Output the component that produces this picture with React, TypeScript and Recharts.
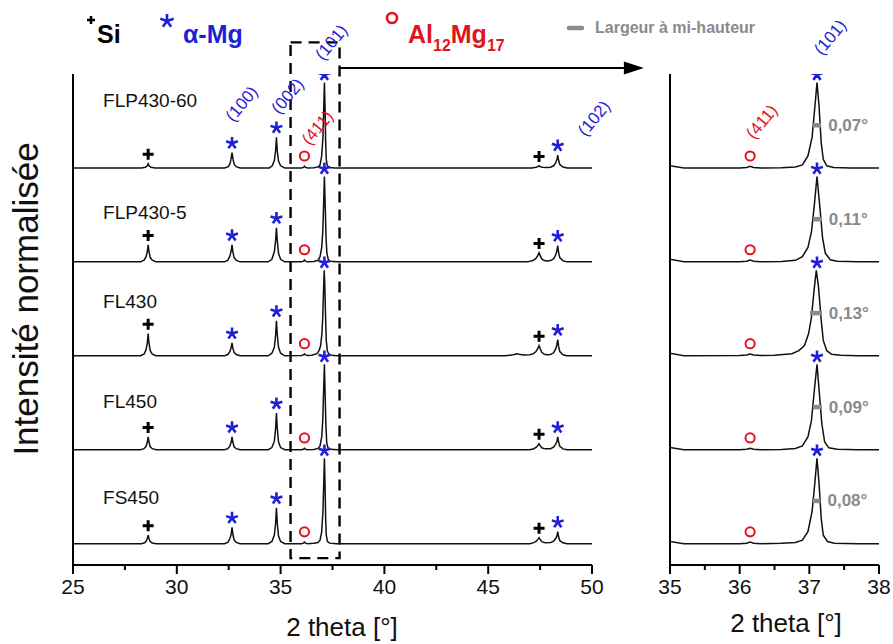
import React from "react";
import {
  ComposedChart,
  Line,
  Scatter,
  XAxis,
  YAxis,
  ReferenceArea,
  ReferenceLine,
  ReferenceDot,
} from "recharts";

const FONT = "'Liberation Sans', Arial, sans-serif";
const BLUE = "#1f1fd6";
const RED = "#e0141c";
const GRAY = "#8a8a8a";

type Pt = [number, number];

// samples, top to bottom
const samples = ["FLP430-60", "FLP430-5", "FL430", "FL450", "FS450"];
const offsets = [4.65, 3.55, 2.45, 1.35, 0.25];
const fwhmLabels = ["0,07°", "0,11°", "0,13°", "0,09°", "0,08°"];
const fwhmBars: Pt[] = [
  [37.05, 37.17],
  [37.05, 37.18],
  [37.01, 37.18],
  [37.05, 37.18],
  [37.05, 37.16],
];

// normalised intensity (above each pattern's own baseline)
const flp430_60: Pt[] = [
  [25, 0], [28.3, 0], [28.48, 0.008], [28.56, 0.02], [28.62, 0.05], [28.68, 0.02], [28.76, 0.008], [28.95, 0],
  [32.3, 0], [32.48, 0.015], [32.56, 0.05], [32.61, 0.1], [32.66, 0.18], [32.71, 0.1], [32.77, 0.04], [32.86, 0.015], [33.05, 0],
  [34.45, 0], [34.6, 0.025], [34.7, 0.09], [34.76, 0.2], [34.8, 0.36], [34.84, 0.2], [34.9, 0.08], [35.0, 0.025], [35.2, 0],
  [36.0, 0], [36.1, 0.006], [36.15, 0.02], [36.2, 0.006], [36.3, 0],
  [36.6, 0.003], [36.8, 0.012], [36.9, 0.035], [36.98, 0.14], [37.04, 0.36], [37.08, 0.72], [37.11, 1], [37.14, 0.72], [37.17, 0.3], [37.2, 0.1], [37.25, 0.025], [37.35, 0.006], [37.6, 0],
  [47.1, 0], [47.3, 0.008], [47.4, 0.015], [47.45, 0.025], [47.5, 0.015], [47.6, 0.008], [47.8, 0.004],
  [48.0, 0.008], [48.15, 0.025], [48.25, 0.06], [48.31, 0.1], [48.35, 0.15], [48.39, 0.09], [48.45, 0.04], [48.6, 0.01], [48.8, 0], [50, 0],
];
const flp430_5: Pt[] = [
  [25, 0], [28.25, 0], [28.42, 0.02], [28.52, 0.06], [28.58, 0.12], [28.62, 0.2], [28.66, 0.12], [28.72, 0.05], [28.82, 0.02], [29.0, 0],
  [32.3, 0], [32.46, 0.02], [32.56, 0.07], [32.62, 0.13], [32.66, 0.2], [32.7, 0.12], [32.76, 0.05], [32.86, 0.02], [33.05, 0],
  [34.4, 0], [34.58, 0.03], [34.7, 0.12], [34.76, 0.25], [34.8, 0.4], [34.84, 0.25], [34.9, 0.1], [35.0, 0.03], [35.2, 0],
  [36.0, 0], [36.1, 0.008], [36.15, 0.022], [36.2, 0.008], [36.3, 0],
  [36.6, 0.005], [36.8, 0.018], [36.9, 0.06], [36.98, 0.17], [37.03, 0.35], [37.07, 0.65], [37.11, 1], [37.15, 0.65], [37.19, 0.28], [37.23, 0.1], [37.3, 0.025], [37.4, 0.006], [37.7, 0],
  [46.9, 0], [47.15, 0.015], [47.3, 0.04], [47.38, 0.07], [47.45, 0.105], [47.51, 0.07], [47.58, 0.035], [47.7, 0.015], [47.85, 0.01],
  [48.0, 0.015], [48.15, 0.035], [48.25, 0.08], [48.31, 0.13], [48.35, 0.19], [48.39, 0.11], [48.45, 0.05], [48.6, 0.012], [48.8, 0], [50, 0],
];
const fl430: Pt[] = [
  [25, 0], [28.25, 0], [28.42, 0.02], [28.52, 0.07], [28.58, 0.15], [28.62, 0.26], [28.66, 0.15], [28.72, 0.06], [28.82, 0.02], [29.0, 0],
  [32.3, 0], [32.46, 0.015], [32.56, 0.05], [32.62, 0.1], [32.66, 0.15], [32.7, 0.09], [32.76, 0.04], [32.86, 0.015], [33.05, 0],
  [34.4, 0], [34.58, 0.03], [34.7, 0.1], [34.76, 0.24], [34.8, 0.41], [34.84, 0.25], [34.9, 0.1], [35.0, 0.03], [35.2, 0],
  [36.0, 0.003], [36.1, 0.01], [36.15, 0.022], [36.2, 0.01], [36.3, 0.004],
  [36.5, 0.006], [36.75, 0.025], [36.85, 0.06], [36.93, 0.12], [36.99, 0.26], [37.03, 0.45], [37.07, 0.78], [37.1, 1], [37.13, 0.82], [37.17, 0.42], [37.2, 0.18], [37.25, 0.06], [37.32, 0.018], [37.45, 0.006], [37.7, 0],
  [45.8, 0], [46.2, 0.012], [46.4, 0.025], [46.55, 0.014], [46.75, 0.01],
  [47.0, 0.012], [47.18, 0.025], [47.3, 0.05], [47.38, 0.08], [47.45, 0.12], [47.51, 0.08], [47.58, 0.04], [47.7, 0.018], [47.85, 0.012],
  [48.0, 0.016], [48.15, 0.035], [48.25, 0.08], [48.31, 0.13], [48.35, 0.19], [48.39, 0.11], [48.45, 0.05], [48.6, 0.012], [48.8, 0], [50, 0],
];
const fl450: Pt[] = [
  [25, 0], [28.25, 0], [28.42, 0.012], [28.52, 0.04], [28.58, 0.09], [28.62, 0.15], [28.66, 0.09], [28.72, 0.035], [28.82, 0.012], [29.0, 0],
  [32.3, 0], [32.46, 0.012], [32.56, 0.045], [32.62, 0.09], [32.66, 0.15], [32.7, 0.09], [32.76, 0.035], [32.86, 0.012], [33.05, 0],
  [34.4, 0], [34.58, 0.025], [34.7, 0.1], [34.76, 0.25], [34.8, 0.43], [34.84, 0.25], [34.9, 0.09], [35.0, 0.025], [35.2, 0],
  [36.0, 0], [36.1, 0.006], [36.15, 0.018], [36.2, 0.006], [36.3, 0],
  [36.6, 0.004], [36.8, 0.015], [36.9, 0.045], [36.98, 0.15], [37.03, 0.34], [37.07, 0.68], [37.11, 1], [37.14, 0.7], [37.18, 0.3], [37.22, 0.09], [37.28, 0.022], [37.4, 0.005], [37.7, 0],
  [47.0, 0], [47.2, 0.012], [47.32, 0.03], [47.39, 0.05], [47.45, 0.07], [47.51, 0.045], [47.6, 0.02], [47.75, 0.01],
  [48.0, 0.012], [48.15, 0.03], [48.25, 0.065], [48.31, 0.1], [48.35, 0.15], [48.39, 0.09], [48.45, 0.04], [48.6, 0.01], [48.8, 0], [50, 0],
];
const fs450: Pt[] = [
  [25, 0], [28.3, 0], [28.45, 0.01], [28.53, 0.03], [28.58, 0.06], [28.62, 0.1], [28.66, 0.06], [28.72, 0.025], [28.82, 0.008], [29.0, 0],
  [32.3, 0], [32.46, 0.015], [32.56, 0.06], [32.62, 0.11], [32.66, 0.19], [32.7, 0.11], [32.76, 0.045], [32.86, 0.015], [33.05, 0],
  [34.4, 0], [34.58, 0.025], [34.7, 0.1], [34.76, 0.24], [34.8, 0.42], [34.84, 0.24], [34.9, 0.09], [35.0, 0.025], [35.2, 0],
  [36.0, 0], [36.1, 0.006], [36.15, 0.018], [36.2, 0.006], [36.3, 0],
  [36.6, 0.004], [36.8, 0.014], [36.9, 0.04], [36.98, 0.14], [37.04, 0.38], [37.08, 0.72], [37.11, 1], [37.14, 0.7], [37.17, 0.3], [37.2, 0.1], [37.26, 0.025], [37.36, 0.006], [37.7, 0],
  [47.0, 0], [47.2, 0.012], [47.32, 0.03], [47.39, 0.05], [47.45, 0.07], [47.51, 0.045], [47.6, 0.02], [47.75, 0.01],
  [48.0, 0.012], [48.15, 0.03], [48.25, 0.06], [48.31, 0.09], [48.35, 0.14], [48.39, 0.08], [48.45, 0.035], [48.6, 0.01], [48.8, 0], [50, 0],
];
const patterns = [flp430_60, flp430_5, fl430, fl450, fs450];

// indexed peaks: phase + 2theta
const peaks = [
  { phase: "Si", x: 28.62 },
  { phase: "Mg", x: 32.66 },
  { phase: "Mg", x: 34.8 },
  { phase: "Al", x: 36.15 },
  { phase: "Mg", x: 37.11 },
  { phase: "Si", x: 47.45 },
  { phase: "Mg", x: 48.35 },
];

const leftMajor = [25, 30, 35, 40, 45, 50];
const leftTicks = [25, 27.5, 30, 32.5, 35, 37.5, 40, 42.5, 45, 47.5, 50];
const rightMajor = [35, 36, 37, 38];
const rightTicks = [35, 35.5, 36, 36.5, 37, 37.5, 38];
const yTicks = [
  0, 0.25, 0.5, 0.75, 1, 1.25, 1.5, 1.75, 2, 2.25, 2.5, 2.75, 3, 3.25, 3.5,
  3.75, 4, 4.25, 4.5, 4.75, 5, 5.25, 5.5, 5.75,
];

// annotation placement (data units)
const sampleLabelY = [5.44, 4.13, 3.08, 1.91, 0.785];
const millerLeft = [
  { text: "(100)", x: 33.13, y: 5.4, color: BLUE },
  { text: "(002)", x: 35.34, y: 5.49, color: BLUE },
  { text: "(101)", x: 37.45, y: 6.12, color: BLUE },
  { text: "(411)", x: 36.78, y: 5.12, color: RED },
  { text: "(102)", x: 50.1, y: 5.23, color: BLUE },
];
const millerRight = [
  { text: "(411)", x: 36.32, y: 5.19, color: RED },
  { text: "(101)", x: 37.3, y: 6.18, color: BLUE },
];

const series = patterns.map((p, i) =>
  p.map(([x, y]) => ({ x, y: y + offsets[i] }))
);

const marks = patterns.flatMap((p, i) =>
  peaks.map((pk) => {
    const near = p.reduce((a, b) => (Math.abs(b[0] - pk.x) < Math.abs(a[0] - pk.x) ? b : a));
    const gap = pk.phase === "Al" ? 0.12 : pk.x > 37 && pk.x < 37.2 ? 0.09 : 0.11;
    return { x: pk.x, y: offsets[i] + near[1] + gap, phase: pk.phase };
  })
);
const marksRight = marks.filter((m) => m.x > 35 && m.x < 38);

const axisStyle = { stroke: "#000", strokeWidth: 2 };
const tickStyle = { stroke: "#000", strokeWidth: 2 };

function Star({ cx, cy, r, color }: { cx: number; cy: number; r: number; color: string }) {
  const arms = [90, 18, -54, -126, 162].map((a) => {
    const t = (a * Math.PI) / 180;
    return `M${cx},${cy}L${cx + r * Math.cos(t)},${cy - r * Math.sin(t)}`;
  });
  return <path d={arms.join("")} stroke={color} strokeWidth={2.6} strokeLinecap="butt" fill="none" />;
}

function renderMark(props: any) {
  const { cx, cy, payload } = props;
  if (payload.phase === "Si")
    return (
      <path
        d={`M${cx - 5.5},${cy}H${cx + 5.5}M${cx},${cy - 5.5}V${cy + 5.5}`}
        stroke="#000"
        strokeWidth={3}
      />
    );
  if (payload.phase === "Al")
    return <circle cx={cx} cy={cy} r={4.6} fill="none" stroke={RED} strokeWidth={2} />;
  return <Star cx={cx} cy={cy} r={6.2} color={BLUE} />;
}

// major ticks get a label and a longer tick, minor ones a short tick
function xTick(majors: number[]) {
  return (p: any) => {
    const { x, y, payload } = p;
    const major = majors.includes(payload.value);
    return (
      <g>
        <line x1={x} x2={x} y1={y} y2={y + (major ? 9 : 5)} stroke="#000" strokeWidth={2} />
        {major && (
          <text x={x} y={y + 29} textAnchor="middle" fontSize={21} fontFamily={FONT} fill="#111">
            {payload.value}
          </text>
        )}
      </g>
    );
  };
}

function millerText(text: string, color: string) {
  return (p: any) => (
    <text
      x={p.cx}
      y={p.cy}
      transform={`rotate(-50 ${p.cx} ${p.cy})`}
      textAnchor="middle"
      dominantBaseline="central"
      fill={color}
      fontSize={17}
      fontFamily={FONT}
    >
      {text}
    </text>
  );
}

function Arrow(p: any) {
  const { x1, y1, x2 } = p;
  return (
    <g>
      <line x1={x1} y1={y1} x2={x2 - 18} y2={y1} stroke="#000" strokeWidth={2} />
      <polygon points={`${x2},${y1} ${x2 - 20},${y1 - 6.5} ${x2 - 20},${y1 + 6.5}`} fill="#000" />
    </g>
  );
}

export default function App() {
  return (
    <div style={{ position: "absolute", left: 0, top: 0, width: 893, height: 644, background: "#fff" }}>
      <div style={{ position: "absolute", left: 0, top: 0 }}>
        <ComposedChart width={893} height={644} margin={{ top: 74, right: 301, bottom: 49, left: 13 }}>
          <XAxis
            type="number"
            dataKey="x"
            domain={[25, 50]}
            ticks={leftTicks}
            interval={0}
            tickSize={0}
            tickMargin={0}
            axisLine={axisStyle}
            tickLine={false}
            tick={xTick(leftMajor)}
            height={30}
            allowDataOverflow
          />
          <YAxis
            type="number"
            domain={[0, 5.75]}
            ticks={yTicks}
            interval={0}
            tick={false}
            tickSize={9}
            width={60}
            axisLine={axisStyle}
            tickLine={tickStyle}
            allowDataOverflow
          />
          {series.map((d, i) => (
            <Line
              key={samples[i]}
              data={d}
              dataKey="y"
              stroke="#111"
              strokeWidth={1.5}
              dot={false}
              isAnimationActive={false}
            />
          ))}
          <Scatter data={marks} dataKey="y" shape={renderMark} isAnimationActive={false} />
          <ReferenceArea
            x1={35.48}
            x2={37.84}
            y1={0.08}
            y2={6.12}
            fill="none"
            fillOpacity={0}
            stroke="#000"
            strokeWidth={2.4}
            strokeDasharray="11 7"
            ifOverflow="visible"
          />
          <ReferenceLine
            segment={[
              { x: 37.84, y: 5.82 },
              { x: 52.5, y: 5.82 },
            ]}
            ifOverflow="visible"
            shape={Arrow}
          />
          {samples.map((s, i) => (
            <ReferenceDot
              key={s}
              x={26.45}
              y={sampleLabelY[i]}
              ifOverflow="visible"
              shape={(p: any) => (
                <text x={p.cx} y={p.cy} dominantBaseline="central" fontSize={19} fontFamily={FONT} fill="#111">
                  {s}
                </text>
              )}
            />
          ))}
          {millerLeft.map((m) => (
            <ReferenceDot key={m.text} x={m.x} y={m.y} ifOverflow="visible" shape={millerText(m.text, m.color)} />
          ))}
        </ComposedChart>
      </div>

      <div style={{ position: "absolute", left: 0, top: 0 }}>
        <ComposedChart width={893} height={644} margin={{ top: 74, right: 14, bottom: 49, left: 610 }}>
          <XAxis
            type="number"
            dataKey="x"
            domain={[35, 38]}
            ticks={rightTicks}
            interval={0}
            tickSize={0}
            tickMargin={0}
            axisLine={axisStyle}
            tickLine={false}
            tick={xTick(rightMajor)}
            height={30}
            allowDataOverflow
          />
          <YAxis
            type="number"
            domain={[0, 5.75]}
            ticks={yTicks}
            interval={0}
            tick={false}
            tickSize={9}
            width={60}
            axisLine={axisStyle}
            tickLine={tickStyle}
            allowDataOverflow
          />
          {series.map((d, i) => (
            <Line
              key={samples[i]}
              data={d}
              dataKey="y"
              stroke="#111"
              strokeWidth={1.5}
              dot={false}
              isAnimationActive={false}
            />
          ))}
          <Scatter data={marksRight} dataKey="y" shape={renderMark} isAnimationActive={false} />
          {samples.map((s, i) => (
            <ReferenceLine
              key={`bar-${s}`}
              segment={[
                { x: fwhmBars[i][0], y: offsets[i] + 0.5 },
                { x: fwhmBars[i][1], y: offsets[i] + 0.5 },
              ]}
              stroke={GRAY}
              strokeWidth={4.5}
            />
          ))}
          {samples.map((s, i) => (
            <ReferenceDot
              key={`lab-${s}`}
              x={fwhmBars[i][1]}
              y={offsets[i] + 0.5}
              ifOverflow="visible"
              shape={(p: any) => (
                <text
                  x={p.cx + 7}
                  y={p.cy}
                  dominantBaseline="central"
                  fontSize={17}
                  fontWeight="bold"
                  fontFamily={FONT}
                  fill={GRAY}
                >
                  {fwhmLabels[i]}
                </text>
              )}
            />
          ))}
          {millerRight.map((m) => (
            <ReferenceDot key={m.text} x={m.x} y={m.y} ifOverflow="visible" shape={millerText(m.text, m.color)} />
          ))}
        </ComposedChart>
      </div>

      <svg
        width={893}
        height={644}
        style={{ position: "absolute", left: 0, top: 0, pointerEvents: "none" }}
        fontFamily={FONT}
      >
        <path d="M87,20H95M91,16V24" stroke="#000" strokeWidth={2.6} />
        <text x={97} y={43} fontSize={25} fontWeight="bold" fill="#000">
          Si
        </text>
        <Star cx={167} cy={21} r={7} color={BLUE} />
        <text x={183} y={43} fontSize={25} fontWeight="bold" fill={BLUE}>
          α-Mg
        </text>
        <circle cx={392} cy={18} r={5} fill="none" stroke={RED} strokeWidth={2.6} />
        <text x={408} y={43} fontSize={25} fontWeight="bold" fill={RED}>
          Al
          <tspan fontSize={16} dy={8}>
            12
          </tspan>
          <tspan fontSize={25} dy={-8}>
            Mg
          </tspan>
          <tspan fontSize={16} dy={8}>
            17
          </tspan>
        </text>
        <line x1={569} x2={582} y1={28} y2={28} stroke={GRAY} strokeWidth={4.5} strokeLinecap="round" />
        <text x={595} y={33} fontSize={16} fontWeight="bold" fill={GRAY}>
          Largeur à mi-hauteur
        </text>
        <text
          transform="translate(25 299) rotate(-90)"
          textAnchor="middle"
          dominantBaseline="central"
          fontSize={35}
          fill="#111"
        >
          Intensité normalisée
        </text>
        <text x={342} y={636} textAnchor="middle" fontSize={26} fill="#111">
          2 theta [°]
        </text>
        <text x={786} y={632} textAnchor="middle" fontSize={26} fill="#111">
          2 theta [°]
        </text>
      </svg>
    </div>
  );
}
